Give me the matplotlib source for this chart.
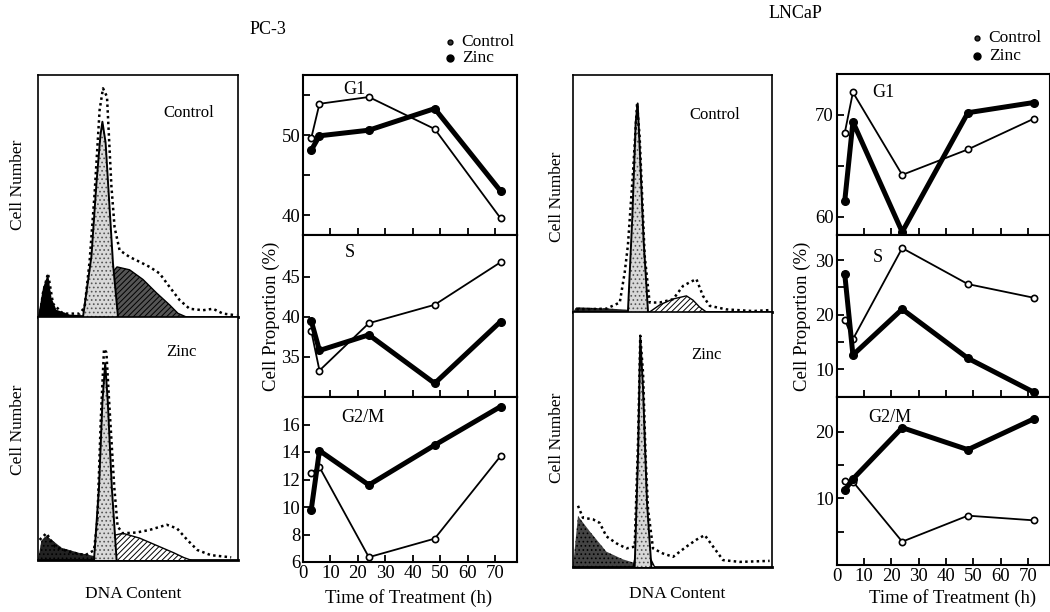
import matplotlib
matplotlib.use("Agg")
import matplotlib.pyplot as plt
from matplotlib.lines import Line2D

plt.rcParams['font.family'] = ['Liberation Serif', 'DejaVu Serif']
plt.rcParams['hatch.linewidth'] = 0.7

# ---------------- time-course data ----------------
hours = [3, 6, 24, 48, 72]
x_ticks = [0, 10, 20, 30, 40, 50, 60, 70]

pc3_g1_control = [49.6, 53.9, 54.75, 50.75, 39.6]
pc3_g1_zinc = [48.1, 49.9, 50.6, 53.3, 43.0]
pc3_s_control = [38.25, 33.3, 39.2, 41.5, 46.8]
pc3_s_zinc = [39.5, 35.8, 37.75, 31.7, 39.4]
pc3_g2m_control = [12.5, 12.9, 6.35, 7.7, 13.7]
pc3_g2m_zinc = [9.8, 14.1, 11.6, 14.5, 17.3]

ln_g1_control = [68.2, 72.2, 64.1, 66.6, 69.6]
ln_g1_zinc = [61.5, 69.3, 58.5, 70.2, 71.2]
ln_s_control = [19.1, 15.5, 32.2, 25.6, 23.1]
ln_s_zinc = [27.5, 12.6, 21.0, 12.0, 5.8]
ln_g2m_control = [12.6, 12.5, 3.5, 7.4, 6.7]
ln_g2m_zinc = [11.2, 12.9, 20.6, 17.3, 21.9]

# ---------------- DNA histogram profiles (channel %, height %) ----------------
pc3c_raw_x = [0.8, 2.5, 5, 7.5, 12.5, 20.8, 23.3, 25.8, 28.3, 30.8, 32.5, 34.5, 36.7, 38.3, 40.8,
              45.8, 50.8, 55.8, 60.8, 65.8, 70.8, 75.8, 82.5, 87.5, 92.5, 99.2]
pc3c_raw_y = [0, 10, 18, 5.5, 1.4, 1.4, 4, 23, 51, 85.5, 94.5, 91, 54, 37, 27.6,
              24.8, 22.8, 20.7, 18, 12.4, 7, 3.4, 2.8, 3.4, 1.4, 0.7]
pc3c_g1_x = [22.5, 26.7, 29.2, 31.2, 32.2, 33.8, 35.8, 37.5, 40]
pc3c_g1_y = [0, 25, 55, 75, 80.7, 72, 45, 22, 0]
pc3c_s_x = [28.3, 31.7, 35.8, 39.5, 45.8, 52.5, 59.2, 65.8, 70, 74.2]
pc3c_s_y = [0, 10, 17, 20.7, 19.5, 15.5, 10, 5, 1.5, 0]
pc3c_deb_x = [0, 2.5, 5, 6.7, 9.2, 15.8, 29]
pc3c_deb_y = [0, 12, 18, 8, 3, 1, 0.5]

pc3z_raw_x = [0.8, 4.2, 8.5, 15.3, 23.7, 28, 29.7, 31.4, 33, 34.2, 35.6, 38.1, 39.8, 42.4,
              49.2, 55.9, 64.4, 69.5, 74.6, 79.7, 86.4, 96.6]
pc3z_raw_y = [8.3, 11, 5.5, 3.4, 2, 4, 16.5, 57.9, 86.8, 85.4, 64.7, 30.3, 13.8, 11,
              11.3, 12.4, 14.5, 13, 8.3, 4.1, 2, 1.1]
pc3z_g1_x = [28, 30.5, 32.2, 33.6, 34.9, 36.9, 39.3]
pc3z_g1_y = [0, 30, 65, 81, 65, 30, 0]
pc3z_s_x = [31.4, 33.9, 37.3, 42.4, 50.8, 59.3, 67.8, 72.9, 76.3]
pc3z_s_y = [0, 6, 10, 11, 9, 6, 3, 1, 0]
pc3z_deb_x = [0, 1.7, 4.2, 11.9, 20.3, 28.8, 35.6]
pc3z_deb_y = [0, 8, 10, 5, 3, 1.5, 0]

lnc_raw_x = [1.7, 16.8, 23.5, 26, 27.6, 30.2, 32.2, 33.5, 36, 38.5, 43.6, 50.3, 55.3, 58.6,
             62, 65.3, 68.7, 77, 90.5, 98.8]
lnc_raw_y = [1.1, 1.4, 4, 16.8, 28.2, 59.5, 88, 73.7, 23.9, 4, 4, 5.4, 11, 12.5,
             13.9, 6.8, 2.6, 1.1, 0.4, 0.8]
lnc_g1_x = [27.6, 29.8, 31.5, 32.5, 33.5, 35.5, 37.7]
lnc_g1_y = [0, 40, 80, 88, 70, 30, 0]
lnc_s_x = [38.5, 43.6, 50.3, 57, 60.3, 63.7, 67]
lnc_s_y = [0, 3, 5.5, 6.8, 5, 2, 0]
lnc_deb_x = [0, 1.7, 16.8, 26.8, 33.5]
lnc_deb_y = [0, 2, 1.5, 1, 0]

lnz_raw_x = [2.5, 5, 10, 13.4, 16.8, 21.8, 26.8, 31, 32.7, 33.8, 35.2, 36.5, 37.7, 40.2,
             45.2, 50.3, 57, 62, 66.2, 70.4, 75.4, 83.8, 98.8]
lnz_raw_y = [24, 19.3, 18.7, 17.3, 12, 9.3, 7.3, 8, 49.3, 90.7, 76, 42.7, 22.7, 7.3,
             5.3, 4, 8, 10.7, 12.5, 8, 2.7, 2, 2.4]
lnz_g1_x = [31, 32.7, 33.8, 35.2, 37.2, 39.4]
lnz_g1_y = [0, 45, 90, 70, 25, 0]
lnz_s_x = [30.2, 31.8, 35.2, 38.5, 41]
lnz_s_y = [0, 6, 7, 4, 0]
lnz_deb_x = [0, 2.5, 8.4, 16.8, 25.1, 33.5, 40]
lnz_deb_y = [0, 20, 14, 6, 3, 1, 0]

W, H = 1050, 612
fig = plt.figure(figsize=(W / 100, H / 100), dpi=100)


def rect(left, top, right, bottom):
    return [left / W, 1 - bottom / H, (right - left) / W, (bottom - top) / H]


def phase_panel(r, ylim, major, minor, label, lab_xy, ctrl, zinc, show_x):
    ax = fig.add_axes(r)
    ax.plot(hours, ctrl, color='black', lw=1.3, marker='o', ms=4.5,
            mfc='white', mec='black', mew=1.2, zorder=3, clip_on=False)
    ax.plot(hours, zinc, color='black', lw=3.6, marker='o', ms=5.5,
            mfc='black', mec='black', zorder=4, clip_on=False)
    ax.set_xlim(0, 78)
    ax.set_ylim(*ylim)
    ax.set_xticks(x_ticks)
    ax.set_yticks(major)
    ax.set_yticks(minor, minor=True)
    ax.tick_params(axis='both', which='major', direction='in', length=5, width=1.3,
                   labelsize=13.5, pad=2)
    ax.tick_params(axis='y', which='minor', direction='in', length=5, width=1.3)
    ax.tick_params(axis='x', which='minor', bottom=False)
    if not show_x:
        ax.tick_params(axis='x', labelbottom=False)
    for s in ax.spines.values():
        s.set_linewidth(1.5)
    ax.text(lab_xy[0], lab_xy[1], label, transform=ax.transAxes, fontsize=13,
            ha='center', va='center')
    return ax


def hist_panel(r, raw_x, raw_y, g1_x, g1_y, s_x, s_y, deb_x, deb_y, s_face, deb_face,
               name, name_xy):
    ax = fig.add_axes(r)
    ax.fill_between(deb_x, deb_y, facecolor=deb_face, edgecolor='black', hatch='....',
                    lw=0, zorder=2)
    ax.fill_between(s_x, s_y, facecolor=s_face, edgecolor='black', hatch='//////',
                    lw=0, zorder=3)
    ax.plot(s_x, s_y, color='black', lw=1.0, zorder=3)
    ax.fill_between(g1_x, g1_y, facecolor='#d8d8d8', edgecolor='#555555', hatch='....',
                    lw=0, zorder=4)
    ax.plot(g1_x, g1_y, color='black', lw=1.4, zorder=5)
    ax.plot(raw_x, raw_y, color='black', ls=(0, (1, 1.3)), lw=1.8, zorder=6)
    ax.set_xlim(0, 100)
    ax.set_ylim(0, 100)
    ax.set_xticks([])
    ax.set_yticks([])
    for s in ax.spines.values():
        s.set_linewidth(1.2)
    ax.spines['bottom'].set_linewidth(2.0)
    ax.text(name_xy[0], name_xy[1], name, transform=ax.transAxes, fontsize=12,
            ha='center', va='center')
    return ax


# ---------------- histograms ----------------
hist_panel(rect(38, 75, 238, 317), pc3c_raw_x, pc3c_raw_y, pc3c_g1_x, pc3c_g1_y,
           pc3c_s_x, pc3c_s_y, pc3c_deb_x, pc3c_deb_y, '#555555', 'black',
           'Control', (0.755, 0.845))
hist_panel(rect(38, 317, 238, 560), pc3z_raw_x, pc3z_raw_y, pc3z_g1_x, pc3z_g1_y,
           pc3z_s_x, pc3z_s_y, pc3z_deb_x, pc3z_deb_y, 'white', '#222222',
           'Zinc', (0.715, 0.855))
hist_panel(rect(573, 75, 772, 312), lnc_raw_x, lnc_raw_y, lnc_g1_x, lnc_g1_y,
           lnc_s_x, lnc_s_y, lnc_deb_x, lnc_deb_y, 'white', '#222222',
           'Control', (0.71, 0.83))
hist_panel(rect(573, 312, 772, 567), lnz_raw_x, lnz_raw_y, lnz_g1_x, lnz_g1_y,
           lnz_s_x, lnz_s_y, lnz_deb_x, lnz_deb_y, 'white', '#444444',
           'Zinc', (0.67, 0.83))

# ---------------- PC-3 time course ----------------
phase_panel(rect(303, 75, 517, 235), (37.5, 57.5), [40, 50], [45, 55], 'G1', (0.24, 0.91),
            pc3_g1_control, pc3_g1_zinc, False)
phase_panel(rect(303, 235, 517, 397), (30, 50.2), [35, 40, 45], [], 'S', (0.22, 0.895),
            pc3_s_control, pc3_s_zinc, False)
phase_panel(rect(303, 397, 517, 562), (6, 18), [6, 8, 10, 12, 14, 16], [], 'G2/M', (0.28, 0.873),
            pc3_g2m_control, pc3_g2m_zinc, True)

# ---------------- LNCaP time course ----------------
phase_panel(rect(836.5, 74, 1050, 235), (58.2, 74), [60, 70], [65], 'G1', (0.218, 0.888),
            ln_g1_control, ln_g1_zinc, False)
phase_panel(rect(836.5, 235, 1050, 397), (4.9, 34.6), [10, 20, 30], [15, 25], 'S', (0.194, 0.864),
            ln_s_control, ln_s_zinc, False)
phase_panel(rect(836.5, 397, 1050, 565), (0, 25.2), [10, 20], [5, 15], 'G2/M', (0.25, 0.88),
            ln_g2m_control, ln_g2m_zinc, True)


def fx(px):
    return px / W


def fy(py):
    return 1 - py / H


# titles
fig.text(fx(268), fy(30), 'PC-3', fontsize=13, ha='center', va='center')
fig.text(fx(795), fy(14), 'LNCaP', fontsize=13, ha='center', va='center')

# axis labels
for x, y in [(18, 185), (18, 430), (557, 197), (557, 438)]:
    fig.text(fx(x), fy(y), 'Cell Number', fontsize=12.5, rotation=90, ha='center', va='center')
for x in [133, 677]:
    fig.text(fx(x), fy(594), 'DNA Content', fontsize=12.5, ha='center', va='center')
for x in [409, 953]:
    fig.text(fx(x), fy(598), 'Time of Treatment (h)', fontsize=13.5, ha='center', va='center')
for x in [271, 802]:
    fig.text(fx(x), fy(316), 'Cell Proportion (%)', fontsize=13.5, rotation=90,
             ha='center', va='center')

# legends
for bx, tx, y1, y2 in [(450, 461, 42, 58), (977, 988, 38, 56)]:
    fig.add_artist(Line2D([fx(bx)], [fy(y1)], marker='o', ms=3.5, color='black',
                          mfc='#333333', transform=fig.transFigure))
    fig.add_artist(Line2D([fx(bx)], [fy(y2)], marker='o', ms=5, color='black',
                          transform=fig.transFigure))
    fig.text(fx(tx), fy(y1), 'Control', fontsize=12.5, ha='left', va='center')
    fig.text(fx(tx + 1), fy(y2), 'Zinc', fontsize=12.5, ha='left', va='center')

fig.savefig('out.png', dpi=100)
